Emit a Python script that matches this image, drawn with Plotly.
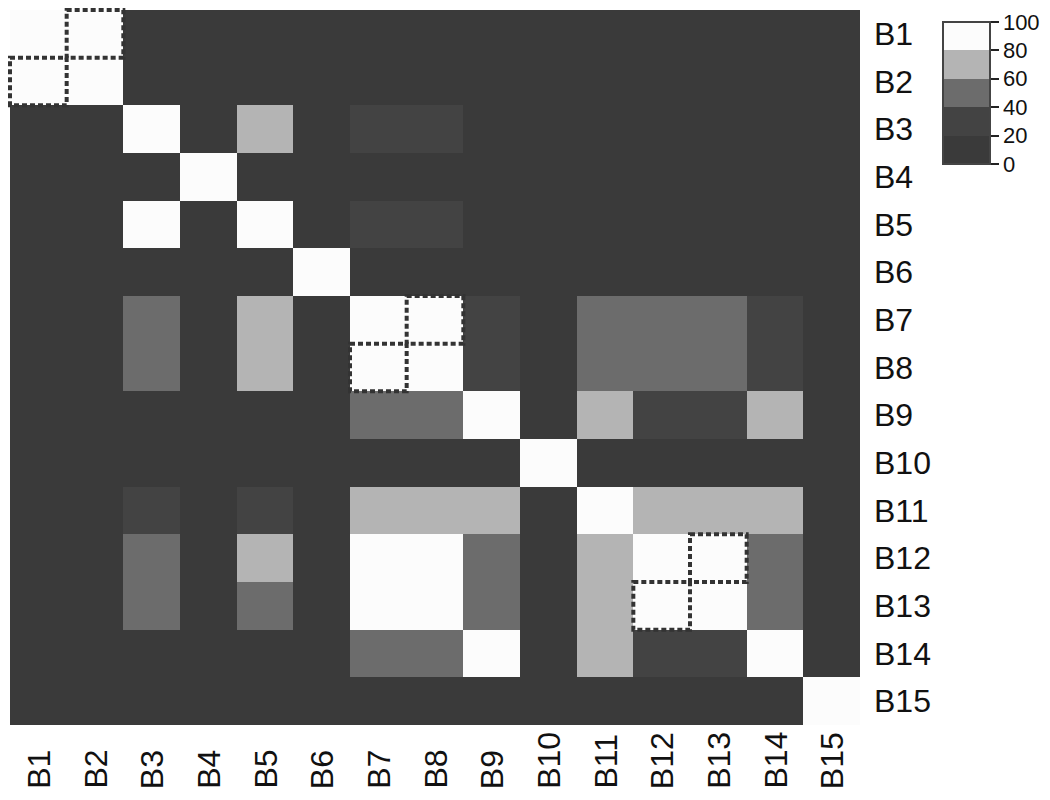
import plotly.graph_objects as go

labels = [f"B{i}" for i in range(1, 16)]

# similarity matrix (rows B1..B15 top to bottom, columns B1..B15)
z = [
    [100, 95, 5, 5, 5, 5, 5, 5, 5, 5, 5, 5, 5, 5, 5],
    [95, 100, 5, 5, 5, 5, 5, 5, 5, 5, 5, 5, 5, 5, 5],
    [5, 5, 100, 5, 70, 5, 30, 30, 5, 5, 5, 5, 5, 5, 5],
    [5, 5, 5, 100, 5, 5, 5, 5, 5, 5, 5, 5, 5, 5, 5],
    [5, 5, 95, 5, 100, 5, 30, 30, 5, 5, 5, 5, 5, 5, 5],
    [5, 5, 5, 5, 5, 100, 5, 5, 5, 5, 5, 5, 5, 5, 5],
    [5, 5, 50, 5, 70, 5, 100, 95, 30, 5, 50, 50, 50, 30, 5],
    [5, 5, 50, 5, 70, 5, 95, 100, 30, 5, 50, 50, 50, 30, 5],
    [5, 5, 5, 5, 5, 5, 50, 50, 100, 5, 70, 30, 30, 70, 5],
    [5, 5, 5, 5, 5, 5, 5, 5, 5, 100, 5, 5, 5, 5, 5],
    [5, 5, 30, 5, 30, 5, 70, 70, 70, 5, 100, 70, 70, 70, 5],
    [5, 5, 50, 5, 70, 5, 90, 90, 50, 5, 70, 100, 95, 50, 5],
    [5, 5, 50, 5, 50, 5, 90, 90, 50, 5, 70, 95, 100, 50, 5],
    [5, 5, 5, 5, 5, 5, 50, 50, 100, 5, 70, 30, 30, 100, 5],
    [5, 5, 5, 5, 5, 5, 5, 5, 5, 5, 5, 5, 5, 5, 100],
]

# cells outlined with dotted boxes: (row label, column label)
outlined = [("B1", "B2"), ("B2", "B1"), ("B7", "B8"), ("B8", "B7"), ("B12", "B13"), ("B13", "B12")]

bin_colors = ["#3a3a3a", "#434343", "#6c6c6c", "#b4b4b4", "#fcfcfc"]
bin_edges = [0, 20, 40, 60, 80, 100]

colorscale = []
for i, c in enumerate(bin_colors):
    colorscale.append([bin_edges[i] / 100, c])
    colorscale.append([bin_edges[i + 1] / 100, c])

FONT = "Liberation Sans, Arial, sans-serif"

fig = go.Figure(
    go.Heatmap(
        z=z,
        x=labels,
        y=labels,
        zmin=0,
        zmax=100,
        colorscale=colorscale,
        colorbar=dict(
            x=1.0974,
            xanchor="left",
            y=0.9805,
            yanchor="top",
            lenmode="pixels",
            len=142,
            thickness=47,
            tickvals=bin_edges,
            ticks="outside",
            ticklen=8,
            tickwidth=2,
            tickcolor="#222",
            tickfont=dict(size=22, color="#111", family=FONT),
            ticklabeloverflow="allow",
            outlinewidth=2,
            outlinecolor="#444",
            xpad=0,
            ypad=0,
        ),
        hoverinfo="skip",
    )
)

for r, c in outlined:
    xi = labels.index(c)
    yi = labels.index(r)
    fig.add_shape(
        type="rect",
        xref="x",
        yref="y",
        x0=xi - 0.5,
        x1=xi + 0.5,
        y0=yi - 0.5,
        y1=yi + 0.5,
        line=dict(color="#333333", width=4, dash="5px,3px"),
    )

# column labels, rotated and aligned at their start (bottom)
for lab in labels:
    fig.add_annotation(
        x=lab,
        xref="x",
        y=0,
        yref="paper",
        yanchor="bottom",
        xanchor="center",
        yshift=-66,
        text=lab,
        textangle=-90,
        showarrow=False,
        font=dict(size=32, color="#111", family=FONT),
    )

fig.update_layout(
    width=1042,
    height=792,
    margin=dict(l=0, r=190, t=0, b=75),
    paper_bgcolor="white",
    plot_bgcolor="white",
    font=dict(family=FONT, color="#111"),
)
fig.update_xaxes(
    type="category",
    showticklabels=False,
    showgrid=False,
    zeroline=False,
    showline=False,
    ticks="",
)
fig.update_yaxes(
    type="category",
    autorange="reversed",
    side="right",
    tickfont=dict(size=32),
    showgrid=False,
    zeroline=False,
    showline=False,
    ticks="",
    ticklabelstandoff=13,
)

fig.write_html("out.html")
